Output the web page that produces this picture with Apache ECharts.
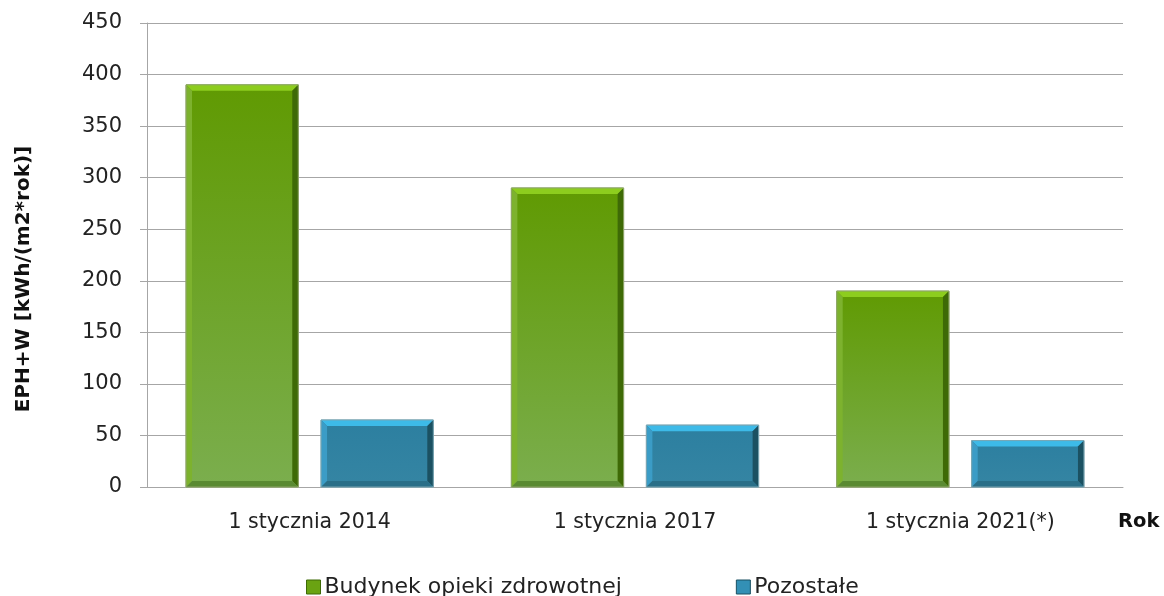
<!DOCTYPE html>
<html>
<head>
<meta charset="utf-8">
<script src="https://cdn.jsdelivr.net/npm/echarts@6/dist/echarts.min.js"></script>
<style>
html,body{margin:0;padding:0;background:#fff;}
#c{width:1164px;height:596px;}
</style>
</head>
<body>
<div id="c"></div>
<script>
var categories = ['1 stycznia 2014', '1 stycznia 2017', '1 stycznia 2021(*)'];
var seriesNames = ['Budynek opieki zdrowotnej', 'Pozostałe'];
var healthValues = [390, 290, 190];
var otherValues = [65, 60, 45];
var yTicks = [0, 50, 100, 150, 200, 250, 300, 350, 400, 450];

var FONT = '"DejaVu Sans", sans-serif';

var palettes = [
  {main: ['#609A02', '#7BAE4E'], top: '#8DCD1E', left: '#7DB22E', right: '#3E6A06', bottom: '#5A8A32', border: '#8FA66A', legend: '#6AA312'},
  {main: ['#2C7FA0', '#3585A3'], top: '#3DBAE8', left: '#3B9CC6', right: '#1B5162', bottom: '#2A6F88', border: '#7BA6B3', legend: '#3390B5'}
];

function makeRender(sIdx) {
  return function (params, api) {
    var ci = api.value(0);
    var val = api.value(1);
    var base = api.coord([ci, 0]);
    var topP = api.coord([ci, val]);
    var catW = api.size([1, 0])[0];
    var bw = catW * 0.345;
    var gap = catW * 0.07;
    var cx = base[0] + (sIdx === 0 ? -(bw + gap) / 2 : (bw + gap) / 2);
    var x0 = cx - bw / 2, x1 = cx + bw / 2;
    var y0 = topP[1], y1 = base[1];
    var b = Math.min(6, (y1 - y0) / 2);
    var p = palettes[sIdx];
    return {
      type: 'group',
      children: [
        {type: 'rect', shape: {x: x0, y: y0, width: bw, height: y1 - y0},
          style: {fill: {type: 'linear', x: 0, y: 0, x2: 0, y2: 1, colorStops: [{offset: 0, color: p.main[0]}, {offset: 1, color: p.main[1]}]}, stroke: p.border, lineWidth: 1}},
        {type: 'polygon', shape: {points: [[x0, y0], [x1, y0], [x1 - b, y0 + b], [x0 + b, y0 + b]]}, style: {fill: p.top}},
        {type: 'polygon', shape: {points: [[x0, y0], [x0 + b, y0 + b], [x0 + b, y1 - b], [x0, y1]]}, style: {fill: p.left}},
        {type: 'polygon', shape: {points: [[x1, y0], [x1, y1], [x1 - b, y1 - b], [x1 - b, y0 + b]]}, style: {fill: p.right}},
        {type: 'polygon', shape: {points: [[x0, y1], [x0 + b, y1 - b], [x1 - b, y1 - b], [x1, y1]]}, style: {fill: p.bottom}},
        {type: 'rect', shape: {x: x0, y: y0, width: bw, height: y1 - y0}, style: {fill: 'none', stroke: p.border, lineWidth: 1}}
      ]
    };
  };
}

function toData(arr) { return arr.map(function (v, i) { return [i, v]; }); }

var chart = echarts.init(document.getElementById('c'));
chart.setOption({
  animation: false,
  backgroundColor: '#fff',
  grid: {left: 147, right: 41, top: 23, bottom: 109, containLabel: false},
  legend: {
    top: 571, left: 301, itemGap: 114, itemWidth: 14, itemHeight: 14,
    icon: 'rect',
    textStyle: {fontFamily: FONT, fontSize: 22, color: '#222', padding: [0, 0, 0, -1]},
    data: [
      {name: seriesNames[0], itemStyle: {color: palettes[0].legend, borderColor: '#3E6A06', borderWidth: 1}},
      {name: seriesNames[1], itemStyle: {color: palettes[1].legend, borderColor: '#1B5162', borderWidth: 1}}
    ]
  },
  xAxis: {
    type: 'category', data: categories,
    axisLine: {lineStyle: {color: '#A6A6A6', width: 1}},
    axisTick: {show: false},
    axisLabel: {fontFamily: FONT, fontSize: 20.5, color: '#222', margin: 25},
    name: 'Rok', nameLocation: 'end', nameGap: -5,
    nameTextStyle: {fontFamily: FONT, fontSize: 19.5, fontWeight: 'bold', color: '#111', verticalAlign: 'top', align: 'left', padding: [25, 0, 0, 0]}
  },
  yAxis: {
    type: 'value', min: 0, max: 450, interval: 50,
    axisLine: {show: true, lineStyle: {color: '#A6A6A6', width: 1}},
    axisTick: {show: true, length: 7, lineStyle: {color: '#A6A6A6'}},
    splitLine: {lineStyle: {color: '#A6A6A6', width: 1}},
    axisLabel: {fontFamily: FONT, fontSize: 21, color: '#222', margin: 25,
      formatter: function (v) { return yTicks.indexOf(v) >= 0 ? String(v) : ''; }},
    name: 'EPH+W [kWh/(m2*rok)]', nameLocation: 'middle', nameGap: 113,
    nameTextStyle: {fontFamily: FONT, fontSize: 20, fontWeight: 'bold', color: '#111', padding: [0, 0, 0, -48]}
  },
  series: [
    {name: seriesNames[0], type: 'custom', renderItem: makeRender(0), data: toData(healthValues), encode: {x: 0, y: 1}, itemStyle: {color: palettes[0].legend}},
    {name: seriesNames[1], type: 'custom', renderItem: makeRender(1), data: toData(otherValues), encode: {x: 0, y: 1}, itemStyle: {color: palettes[1].legend}}
  ]
});
</script>
</body>
</html>
